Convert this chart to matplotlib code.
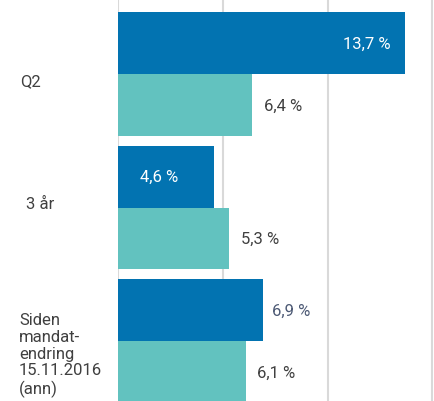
import matplotlib
matplotlib.use("Agg")
import matplotlib.pyplot as plt
import matplotlib.transforms as mtransforms

categories = ["Q2", "3 år", "Siden\nmandat-\nendring\n15.11.2016\n(ann)"]
fund = [13.7, 4.6, 6.9]
benchmark = [6.4, 5.3, 6.1]
fund_labels = ["13,7 %", "4,6 %", "6,9 %"]
bench_labels = ["6,4 %", "5,3 %", "6,1 %"]

plt.rcParams['font.family'] = ['Roboto', 'DejaVu Sans']

W, H, DPI = 435, 402, 100
fig = plt.figure(figsize=(W / DPI, H / DPI), dpi=DPI)
ax = fig.add_axes([118 / W, 0, (W - 118) / W, 1])

dark = "#0273b1"
teal = "#62c2bf"
grid = "#d9d9d9"
txt = "#404040"

h = 0.464
ys = list(range(len(categories)))
ax.barh([y - h / 2 for y in ys], fund, height=h, color=dark, zorder=3)
ax.barh([y + h / 2 for y in ys], benchmark, height=h, color=teal, zorder=3)

for xv in [0, 5, 10, 15]:
    ax.axvline(xv, color=grid, lw=1.5, zorder=1)

ax.set_xlim(0, 15.13)
ax.set_ylim(2.449, -0.562)
ax.axis('off')

fs = 12
for y, v, lab in zip(ys, fund, fund_labels):
    if v > 10:
        ax.text(v - 0.7, y - h / 2, lab, ha='right', va='center', color='white', fontsize=fs, zorder=4)
    elif v < 5:
        ax.text(v * 0.43, y - h / 2, lab, ha='center', va='center', color='white', fontsize=fs, zorder=4)
    else:
        ax.text(v + 0.45, y - h / 2, lab, ha='left', va='center', color='#4d5a75', fontsize=fs, zorder=4)
for y, v, lab in zip(ys, benchmark, bench_labels):
    ax.text(v + 0.55, y + h / 2, lab, ha='left', va='center', color=txt, fontsize=fs, zorder=4)

label_x = [20, 26, 19]
label_dy = [0.05, -0.03, 0.1]
trans = mtransforms.blended_transform_factory(fig.transFigure, ax.transData)
for y, lab, lx, dy in zip(ys, categories, label_x, label_dy):
    ax.text(lx / W, y + dy, lab, transform=trans,
            ha='left', va='center', color=txt, fontsize=fs, linespacing=1.15)

fig.savefig("out.png", dpi=DPI)
